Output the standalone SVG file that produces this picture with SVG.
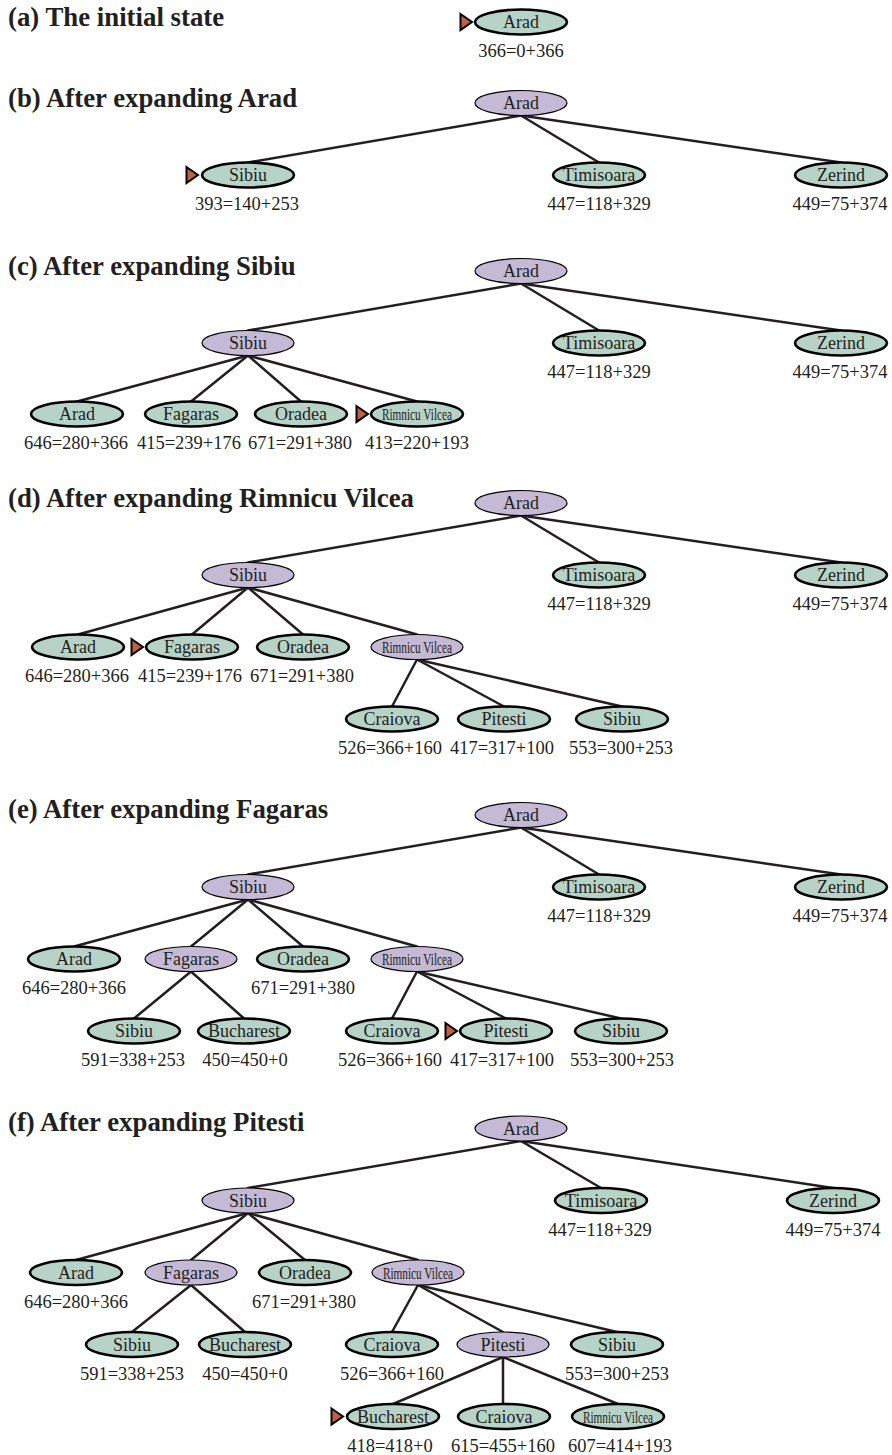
<svg xmlns="http://www.w3.org/2000/svg" xmlns:xlink="http://www.w3.org/1999/xlink" width="892" height="1455" viewBox="0 0 892 1455">
<style>
.t{font-family:"Liberation Serif",serif;font-weight:bold;font-size:26.8px;fill:#231f20}
.n text,.nl{font-family:"Liberation Serif",serif;fill:#231f20;text-anchor:middle}
.n text{font-size:18px}
.n text.l{font-size:18.5px}
.n text.rv{font-size:17px}
.g ellipse{fill:#b7d3c7;stroke:#000;stroke-width:2.6}
.p ellipse{fill:#c4bad6;stroke:#000;stroke-width:1.2}
#connectors line{stroke:#231f20;stroke-width:2.5;stroke-linecap:round}
</style>
<defs>
<path id="mk" d="M-11.5,-8 L0,0 L-11.5,8 Z" fill="#c1623f" stroke="#000" stroke-width="2" stroke-linejoin="miter"/>
</defs>
<rect width="892" height="1455" fill="#fff"/>

<g id="titles">
<text class="t" x="8" y="26">(a) The initial state</text>
<text class="t" x="8" y="107">(b) After expanding Arad</text>
<text class="t" x="8" y="275">(c) After expanding Sibiu</text>
<text class="t" x="8" y="507">(d) After expanding Rimnicu Vilcea</text>
<text class="t" x="8" y="818">(e) After expanding Fagaras</text>
<text class="t" x="8" y="1131">(f) After expanding Pitesti</text>
</g>

<g id="connectors">
<!-- b -->
<line x1="521" y1="115.5" x2="248" y2="162.5"/>
<line x1="521" y1="115.5" x2="599" y2="162.5"/>
<line x1="521" y1="115.5" x2="841" y2="162.5"/>
<!-- c -->
<line x1="521" y1="283.5" x2="248" y2="330.5"/>
<line x1="521" y1="283.5" x2="599" y2="330.5"/>
<line x1="521" y1="283.5" x2="841" y2="330.5"/>
<line x1="248" y1="355.5" x2="77" y2="401.5"/>
<line x1="248" y1="355.5" x2="191" y2="401.5"/>
<line x1="248" y1="355.5" x2="301" y2="401.5"/>
<line x1="248" y1="355.5" x2="417" y2="401.5"/>
<!-- d -->
<line x1="521" y1="515.5" x2="248" y2="562.5"/>
<line x1="521" y1="515.5" x2="599" y2="562.5"/>
<line x1="521" y1="515.5" x2="841" y2="562.5"/>
<line x1="248" y1="587.5" x2="78" y2="634.5"/>
<line x1="248" y1="587.5" x2="192" y2="634.5"/>
<line x1="248" y1="587.5" x2="303" y2="634.5"/>
<line x1="248" y1="587.5" x2="417" y2="634.5"/>
<line x1="417" y1="659.5" x2="392" y2="706.5"/>
<line x1="417" y1="659.5" x2="504" y2="706.5"/>
<line x1="417" y1="659.5" x2="622" y2="706.5"/>
<!-- e -->
<line x1="521" y1="827.5" x2="248" y2="874.5"/>
<line x1="521" y1="827.5" x2="599" y2="874.5"/>
<line x1="521" y1="827.5" x2="841" y2="874.5"/>
<line x1="248" y1="899.5" x2="74" y2="946.5"/>
<line x1="248" y1="899.5" x2="191" y2="946.5"/>
<line x1="248" y1="899.5" x2="303" y2="946.5"/>
<line x1="248" y1="899.5" x2="417" y2="946.5"/>
<line x1="191" y1="971.5" x2="134" y2="1018.5"/>
<line x1="191" y1="971.5" x2="244" y2="1018.5"/>
<line x1="417" y1="971.5" x2="392" y2="1018.5"/>
<line x1="417" y1="971.5" x2="506" y2="1018.5"/>
<line x1="417" y1="971.5" x2="621" y2="1018.5"/>
<!-- f -->
<line x1="521" y1="1141" x2="248" y2="1188"/>
<line x1="521" y1="1141" x2="601" y2="1188"/>
<line x1="521" y1="1141" x2="833" y2="1188"/>
<line x1="248" y1="1213" x2="76" y2="1260"/>
<line x1="248" y1="1213" x2="191" y2="1260"/>
<line x1="248" y1="1213" x2="305" y2="1260"/>
<line x1="248" y1="1213" x2="418" y2="1260"/>
<line x1="191" y1="1285" x2="132" y2="1332"/>
<line x1="191" y1="1285" x2="245" y2="1332"/>
<line x1="418" y1="1285" x2="392" y2="1332"/>
<line x1="418" y1="1285" x2="503" y2="1332"/>
<line x1="418" y1="1285" x2="617" y2="1332"/>
<line x1="503" y1="1357" x2="393" y2="1404"/>
<line x1="503" y1="1357" x2="503" y2="1404"/>
<line x1="503" y1="1357" x2="618" y2="1404"/>
</g>

<!-- (a) -->
<g id="a-arad" class="n g"><use xlink:href="#mk" x="472" y="22"/><ellipse cx="521" cy="22" rx="46" ry="12.5"/><text x="521" y="28">Arad</text><text class="l" x="521" y="57">366=0+366</text></g>

<!-- (b) -->
<g id="b-arad" class="n p"><ellipse cx="521" cy="103" rx="46" ry="12.5"/><text x="521" y="109">Arad</text></g>
<g id="b-sibiu" class="n g"><use xlink:href="#mk" x="198" y="175"/><ellipse cx="248" cy="175" rx="46" ry="12.5"/><text x="248" y="181">Sibiu</text><text class="l" x="247" y="210">393=140+253</text></g>
<g id="b-timisoara" class="n g"><ellipse cx="599" cy="175" rx="46" ry="12.5"/><text x="599" y="181">Timisoara</text><text class="l" x="599" y="210">447=118+329</text></g>
<g id="b-zerind" class="n g"><ellipse cx="841" cy="175" rx="46" ry="12.5"/><text x="841" y="181">Zerind</text><text class="l" x="840" y="210">449=75+374</text></g>

<!-- (c) -->
<g id="c-arad" class="n p"><ellipse cx="521" cy="271" rx="46" ry="12.5"/><text x="521" y="277">Arad</text></g>
<g id="c-sibiu" class="n p"><ellipse cx="248" cy="343" rx="46" ry="12.5"/><text x="248" y="349">Sibiu</text></g>
<g id="c-timisoara" class="n g"><ellipse cx="599" cy="343" rx="46" ry="12.5"/><text x="599" y="349">Timisoara</text><text class="l" x="599" y="378">447=118+329</text></g>
<g id="c-zerind" class="n g"><ellipse cx="841" cy="343" rx="46" ry="12.5"/><text x="841" y="349">Zerind</text><text class="l" x="840" y="378">449=75+374</text></g>
<g id="c-arad2" class="n g"><ellipse cx="77" cy="414" rx="46" ry="12.5"/><text x="77" y="420">Arad</text><text class="l" x="76" y="449">646=280+366</text></g>
<g id="c-fagaras" class="n g"><ellipse cx="191" cy="414" rx="46" ry="12.5"/><text x="191" y="420">Fagaras</text><text class="l" x="189" y="449">415=239+176</text></g>
<g id="c-oradea" class="n g"><ellipse cx="301" cy="414" rx="46" ry="12.5"/><text x="301" y="420">Oradea</text><text class="l" x="300" y="449">671=291+380</text></g>
<g id="c-rimnicu" class="n g"><use xlink:href="#mk" x="368" y="414"/><ellipse cx="417" cy="414" rx="46" ry="12.5"/><text class="rv" x="417" y="420" textLength="70" lengthAdjust="spacingAndGlyphs">Rimnicu Vilcea</text><text class="l" x="417" y="449">413=220+193</text></g>

<!-- (d) -->
<g id="d-arad" class="n p"><ellipse cx="521" cy="503" rx="46" ry="12.5"/><text x="521" y="509">Arad</text></g>
<g id="d-sibiu" class="n p"><ellipse cx="248" cy="575" rx="46" ry="12.5"/><text x="248" y="581">Sibiu</text></g>
<g id="d-timisoara" class="n g"><ellipse cx="599" cy="575" rx="46" ry="12.5"/><text x="599" y="581">Timisoara</text><text class="l" x="599" y="610">447=118+329</text></g>
<g id="d-zerind" class="n g"><ellipse cx="841" cy="575" rx="46" ry="12.5"/><text x="841" y="581">Zerind</text><text class="l" x="840" y="610">449=75+374</text></g>
<g id="d-arad2" class="n g"><ellipse cx="78" cy="647" rx="46" ry="12.5"/><text x="78" y="653">Arad</text><text class="l" x="77" y="682">646=280+366</text></g>
<g id="d-fagaras" class="n g"><use xlink:href="#mk" x="143" y="647"/><ellipse cx="192" cy="647" rx="46" ry="12.5"/><text x="192" y="653">Fagaras</text><text class="l" x="190" y="682">415=239+176</text></g>
<g id="d-oradea" class="n g"><ellipse cx="303" cy="647" rx="46" ry="12.5"/><text x="303" y="653">Oradea</text><text class="l" x="302" y="682">671=291+380</text></g>
<g id="d-rimnicu" class="n p"><ellipse cx="417" cy="647" rx="46" ry="12.5"/><text class="rv" x="417" y="653" textLength="70" lengthAdjust="spacingAndGlyphs">Rimnicu Vilcea</text></g>
<g id="d-craiova" class="n g"><ellipse cx="392" cy="719" rx="46" ry="12.5"/><text x="392" y="725">Craiova</text><text class="l" x="390" y="754">526=366+160</text></g>
<g id="d-pitesti" class="n g"><ellipse cx="504" cy="719" rx="46" ry="12.5"/><text x="504" y="725">Pitesti</text><text class="l" x="502" y="754">417=317+100</text></g>
<g id="d-sibiu3" class="n g"><ellipse cx="622" cy="719" rx="46" ry="12.5"/><text x="622" y="725">Sibiu</text><text class="l" x="621" y="754">553=300+253</text></g>

<!-- (e) -->
<g id="e-arad" class="n p"><ellipse cx="521" cy="815" rx="46" ry="12.5"/><text x="521" y="821">Arad</text></g>
<g id="e-sibiu" class="n p"><ellipse cx="248" cy="887" rx="46" ry="12.5"/><text x="248" y="893">Sibiu</text></g>
<g id="e-timisoara" class="n g"><ellipse cx="599" cy="887" rx="46" ry="12.5"/><text x="599" y="893">Timisoara</text><text class="l" x="599" y="922">447=118+329</text></g>
<g id="e-zerind" class="n g"><ellipse cx="841" cy="887" rx="46" ry="12.5"/><text x="841" y="893">Zerind</text><text class="l" x="840" y="922">449=75+374</text></g>
<g id="e-arad2" class="n g"><ellipse cx="74" cy="959" rx="46" ry="12.5"/><text x="74" y="965">Arad</text><text class="l" x="74" y="994">646=280+366</text></g>
<g id="e-fagaras" class="n p"><ellipse cx="191" cy="959" rx="46" ry="12.5"/><text x="191" y="965">Fagaras</text></g>
<g id="e-oradea" class="n g"><ellipse cx="303" cy="959" rx="46" ry="12.5"/><text x="303" y="965">Oradea</text><text class="l" x="303" y="994">671=291+380</text></g>
<g id="e-rimnicu" class="n p"><ellipse cx="417" cy="959" rx="46" ry="12.5"/><text class="rv" x="417" y="965" textLength="70" lengthAdjust="spacingAndGlyphs">Rimnicu Vilcea</text></g>
<g id="e-sibiu3" class="n g"><ellipse cx="134" cy="1031" rx="46" ry="12.5"/><text x="134" y="1037">Sibiu</text><text class="l" x="133" y="1066">591=338+253</text></g>
<g id="e-bucharest" class="n g"><ellipse cx="244" cy="1031" rx="46" ry="12.5"/><text x="244" y="1037">Bucharest</text><text class="l" x="245" y="1066">450=450+0</text></g>
<g id="e-craiova" class="n g"><ellipse cx="392" cy="1031" rx="46" ry="12.5"/><text x="392" y="1037">Craiova</text><text class="l" x="390" y="1066">526=366+160</text></g>
<g id="e-pitesti" class="n g"><use xlink:href="#mk" x="457" y="1031"/><ellipse cx="506" cy="1031" rx="46" ry="12.5"/><text x="506" y="1037">Pitesti</text><text class="l" x="502" y="1066">417=317+100</text></g>
<g id="e-sibiu4" class="n g"><ellipse cx="621" cy="1031" rx="46" ry="12.5"/><text x="621" y="1037">Sibiu</text><text class="l" x="622" y="1066">553=300+253</text></g>

<!-- (f) -->
<g id="f-arad" class="n p"><ellipse cx="521" cy="1128.5" rx="46" ry="12.5"/><text x="521" y="1134.5">Arad</text></g>
<g id="f-sibiu" class="n p"><ellipse cx="248" cy="1200.5" rx="46" ry="12.5"/><text x="248" y="1206.5">Sibiu</text></g>
<g id="f-timisoara" class="n g"><ellipse cx="601" cy="1200.5" rx="46" ry="12.5"/><text x="601" y="1206.5">Timisoara</text><text class="l" x="600" y="1235.5">447=118+329</text></g>
<g id="f-zerind" class="n g"><ellipse cx="833" cy="1200.5" rx="46" ry="12.5"/><text x="833" y="1206.5">Zerind</text><text class="l" x="833" y="1235.5">449=75+374</text></g>
<g id="f-arad2" class="n g"><ellipse cx="76" cy="1272.5" rx="46" ry="12.5"/><text x="76" y="1278.5">Arad</text><text class="l" x="76" y="1307.5">646=280+366</text></g>
<g id="f-fagaras" class="n p"><ellipse cx="191" cy="1272.5" rx="46" ry="12.5"/><text x="191" y="1278.5">Fagaras</text></g>
<g id="f-oradea" class="n g"><ellipse cx="305" cy="1272.5" rx="46" ry="12.5"/><text x="305" y="1278.5">Oradea</text><text class="l" x="304" y="1307.5">671=291+380</text></g>
<g id="f-rimnicu" class="n p"><ellipse cx="418" cy="1272.5" rx="46" ry="12.5"/><text class="rv" x="418" y="1278.5" textLength="70" lengthAdjust="spacingAndGlyphs">Rimnicu Vilcea</text></g>
<g id="f-sibiu3" class="n g"><ellipse cx="132" cy="1344.5" rx="46" ry="12.5"/><text x="132" y="1350.5">Sibiu</text><text class="l" x="132" y="1379.5">591=338+253</text></g>
<g id="f-bucharest" class="n g"><ellipse cx="245" cy="1344.5" rx="46" ry="12.5"/><text x="245" y="1350.5">Bucharest</text><text class="l" x="245" y="1379.5">450=450+0</text></g>
<g id="f-craiova" class="n g"><ellipse cx="392" cy="1344.5" rx="46" ry="12.5"/><text x="392" y="1350.5">Craiova</text><text class="l" x="392" y="1379.5">526=366+160</text></g>
<g id="f-pitesti" class="n p"><ellipse cx="503" cy="1344.5" rx="46" ry="12.5"/><text x="503" y="1350.5">Pitesti</text></g>
<g id="f-sibiu4" class="n g"><ellipse cx="617" cy="1344.5" rx="46" ry="12.5"/><text x="617" y="1350.5">Sibiu</text><text class="l" x="617" y="1379.5">553=300+253</text></g>
<g id="f-bucharest2" class="n g"><use xlink:href="#mk" x="343" y="1416.5"/><ellipse cx="393" cy="1416.5" rx="46" ry="12.5"/><text x="393" y="1422.5">Bucharest</text><text class="l" x="390" y="1451.5">418=418+0</text></g>
<g id="f-craiova2" class="n g"><ellipse cx="504" cy="1416.5" rx="46" ry="12.5"/><text x="504" y="1422.5">Craiova</text><text class="l" x="503" y="1451.5">615=455+160</text></g>
<g id="f-rimnicu2" class="n g"><ellipse cx="618" cy="1416.5" rx="46" ry="12.5"/><text class="rv" x="618" y="1422.5" textLength="70" lengthAdjust="spacingAndGlyphs">Rimnicu Vilcea</text><text class="l" x="620" y="1451.5">607=414+193</text></g>
</svg>
